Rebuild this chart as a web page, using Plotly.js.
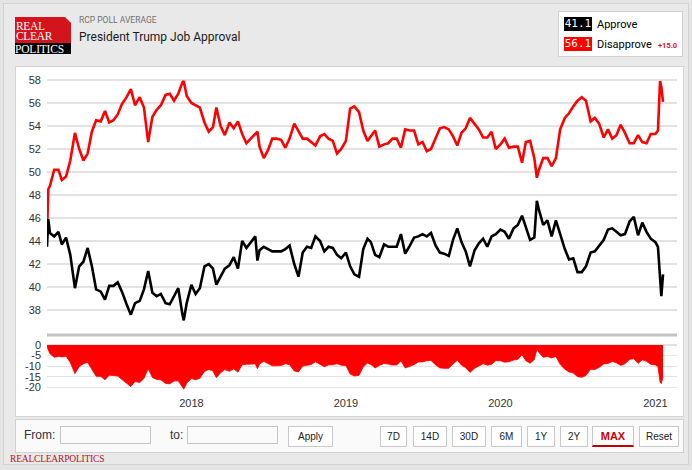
<!DOCTYPE html>
<html>
<head>
<meta charset="utf-8">
<script src="https://cdn.plot.ly/plotly-3.0.1.min.js"></script>
<style>
  html, body { margin:0; padding:0; background:#e6e6e6; }
  #wrap { position:relative; width:692px; height:470px; overflow:hidden; background:#e4e4e4; font-family:Roboto, "Liberation Sans", Arial, sans-serif; }
  .abs { position:absolute; white-space:nowrap; }
  .btn { position:absolute; top:426px; height:19px; border:1px solid #c8c8c8; background:#fff; font-family:"Liberation Sans Narrow","Liberation Sans",Arial,sans-serif; font-size:10px; color:#222; text-align:center; line-height:19px; box-sizing:content-box; }
  .inp { position:absolute; top:426px; height:16px; border:1px solid #c4c4c4; background:#fbfbfb; }
  .logo { position:absolute; font-family:'Liberation Serif','DejaVu Serif',serif; font-size:11.5px; line-height:10px; color:#fff; letter-spacing:-0.3px; }
</style>
</head>
<body>
<div id="wrap">
  <!-- header -->
  <div class="abs" style="left:3px;top:3px;width:684px;height:460px;border:1px solid #d2d2d2;background:#e9e9e9;"></div>
  <!-- logo -->
  <div class="abs" style="left:15px;top:17px;width:56px;height:26px;background:#d4141c;"></div>
  <div class="abs" style="left:65px;top:17px;width:0;height:0;border-top:6px solid #e9e9e9;border-left:6px solid transparent;"></div>
  <div class="abs" style="left:15px;top:43px;width:56px;height:11px;background:#000;"></div>
  <div class="logo" style="left:16px;top:21px;white-space:pre;">REAL
CLEAR</div>
  <div class="logo" style="left:15px;top:44px;white-space:nowrap;letter-spacing:-0.2px;">POLITICS</div>
  <div class="abs" style="left:79px;top:15px;font-size:8.5px;color:#6f6f6f;">RCP POLL AVERAGE</div>
  <div class="abs" style="left:79px;top:30px;font-size:12px;color:#1a1a1a;">President Trump Job Approval</div>
  <!-- legend box -->
  <div class="abs" style="left:558px;top:11px;width:123px;height:44px;background:#fff;border:1px solid #d0d0d0;"></div>
  <div class="abs" style="left:564px;top:17px;width:28px;height:14px;background:#000;color:#fff;font-family:'DejaVu Sans Mono','Liberation Mono',monospace;font-size:11px;line-height:14px;text-align:center;">41.1</div>
  <div class="abs" style="left:597px;top:18px;font-size:11px;line-height:14px;color:#000;">Approve</div>
  <div class="abs" style="left:564px;top:37px;width:28px;height:14px;background:#ff0000;color:#fff;font-family:'DejaVu Sans Mono','Liberation Mono',monospace;font-size:11px;line-height:14px;text-align:center;">56.1</div>
  <div class="abs" style="left:597px;top:38px;font-size:11px;line-height:14px;color:#000;">Disapprove</div>
  <div class="abs" style="left:658px;top:40px;font-size:7.5px;line-height:12px;font-weight:bold;color:#e01010;">+15.0</div>
  <!-- chart panel -->
  <div class="abs" style="left:15px;top:66px;width:667px;height:349px;background:#fff;border:1px solid #d4d4d4;"></div>
  <div id="chart" class="abs" style="left:15px;top:67px;width:668px;height:348px;"></div>
  <!-- controls -->
  <div class="abs" style="left:15px;top:419px;width:667px;height:32px;background:#fafafa;border:1px solid #d0d0d0;"></div>
  <div class="abs" style="left:24px;top:428px;font-size:12px;line-height:14px;color:#333;font-family:'Liberation Sans Narrow','Liberation Sans',Arial,sans-serif;">From:</div>
  <div class="inp" style="left:60px;width:89px;"></div>
  <div class="abs" style="left:170px;top:428px;font-size:12px;line-height:14px;color:#333;font-family:'Liberation Sans Narrow','Liberation Sans',Arial,sans-serif;">to:</div>
  <div class="inp" style="left:187px;width:89px;"></div>
  <div class="btn" style="left:288px;width:43px;">Apply</div>
  <div class="btn" style="left:380px;width:25px;">7D</div>
  <div class="btn" style="left:413px;width:32px;">14D</div>
  <div class="btn" style="left:452px;width:32px;">30D</div>
  <div class="btn" style="left:491px;width:29px;">6M</div>
  <div class="btn" style="left:527px;width:26px;">1Y</div>
  <div class="btn" style="left:560px;width:26px;">2Y</div>
  <div class="btn" style="left:592px;width:40px;height:18px;color:#d00000;font-weight:bold;font-size:11px;border-bottom:2px solid #c00000;">MAX</div>
  <div class="btn" style="left:639px;width:38px;">Reset</div>
  <div class="abs" style="left:10px;top:454px;font-family:'Liberation Serif','DejaVu Serif',serif;font-size:9.5px;line-height:11px;color:#b0141c;letter-spacing:-0.2px;">REALCLEARPOLITICS</div>
</div>
<script>
// RCP poll average, Trump job approval
const dates = [
 "2017-01-25","2017-01-28","2017-02-01","2017-02-11","2017-02-21","2017-03-01","2017-03-11","2017-03-21",
 "2017-04-01","2017-04-11","2017-04-21","2017-05-01","2017-05-11","2017-05-21","2017-06-01","2017-06-11",
 "2017-06-21","2017-07-01","2017-07-11","2017-07-21","2017-08-01","2017-08-11","2017-08-21","2017-09-01",
 "2017-09-11","2017-09-21","2017-10-01","2017-10-11","2017-10-21","2017-11-01","2017-11-11","2017-11-21",
 "2017-12-01","2017-12-11","2017-12-14","2017-12-21",
 "2018-01-01","2018-01-11","2018-01-21","2018-02-01","2018-02-11","2018-02-21","2018-03-01","2018-03-11",
 "2018-03-21","2018-04-01","2018-04-11","2018-04-21","2018-05-01","2018-05-11","2018-05-21","2018-06-01",
 "2018-06-06","2018-06-11","2018-06-21","2018-07-01","2018-07-11","2018-07-21","2018-08-01","2018-08-11",
 "2018-08-21","2018-09-01","2018-09-11","2018-09-21","2018-10-01","2018-10-11","2018-10-21","2018-11-01",
 "2018-11-11","2018-11-21","2018-12-01","2018-12-11","2018-12-21",
 "2019-01-01","2019-01-11","2019-01-21","2019-02-01","2019-02-11","2019-02-21","2019-03-01","2019-03-11",
 "2019-03-21","2019-04-01","2019-04-11","2019-04-21","2019-05-01","2019-05-11","2019-05-21","2019-06-01",
 "2019-06-11","2019-06-21","2019-07-01","2019-07-11","2019-07-21","2019-08-01","2019-08-11","2019-08-21",
 "2019-09-01","2019-09-11","2019-09-21","2019-10-01","2019-10-11","2019-10-21","2019-11-01","2019-11-11",
 "2019-11-21","2019-12-01","2019-12-11","2019-12-21",
 "2020-01-01","2020-01-11","2020-01-21","2020-02-01","2020-02-11","2020-02-21","2020-03-01","2020-03-11",
 "2020-03-21","2020-03-27","2020-04-01","2020-04-11","2020-04-21","2020-05-01","2020-05-11","2020-05-21",
 "2020-06-01","2020-06-11","2020-06-21","2020-07-01","2020-07-11","2020-07-21","2020-08-01","2020-08-11",
 "2020-08-21","2020-09-01","2020-09-11","2020-09-21","2020-10-01","2020-10-11","2020-10-21","2020-11-01",
 "2020-11-11","2020-11-21","2020-12-01","2020-12-11","2020-12-21",
 "2021-01-01","2021-01-07","2021-01-12","2021-01-15","2021-01-19"
];
const approve = [
 43.5,45.9,44.7,44.4,44.8,43.7,44.3,42.8,
 39.9,41.8,42.2,43.4,41.8,39.8,39.6,38.9,
 40.1,40.1,40.4,39.6,38.5,37.6,38.6,38.8,
 39.8,41.4,39.5,39.2,39.4,38.6,38.5,39.2,
 39.9,37.6,37.1,38.6,
 40.2,39.4,39.9,41.8,42.0,41.6,40.2,40.9,
 41.6,41.9,42.6,41.6,44.0,43.4,43.9,44.4,
 42.3,43.2,43.5,43.3,43.1,43.1,43.1,43.3,
 43.6,42.0,40.9,43.0,43.5,43.4,44.4,44.0,
 43.1,43.5,43.4,42.8,42.5,
 43.0,41.8,41.1,40.9,43.3,44.2,43.9,42.8,
 42.6,43.7,43.5,43.5,43.5,44.6,42.9,43.6,
 44.3,44.4,44.6,44.4,44.7,43.6,43.0,42.9,
 42.7,44.1,45.1,43.9,43.1,41.8,43.2,43.8,
 44.2,43.5,44.4,44.6,
 45.0,44.8,44.2,45.1,45.4,46.2,45.2,44.1,
 44.3,47.5,46.7,45.4,45.8,44.4,45.8,44.6,
 43.3,42.4,42.5,41.3,41.3,41.8,43.0,43.1,
 43.6,44.1,45.0,45.1,44.8,44.5,44.6,45.7,
 46.1,44.5,45.6,44.8,44.2,
 43.9,43.5,40.4,39.2,41.1
];
const disapprove = [
 44.5,48.5,48.8,50.2,50.2,49.3,49.6,51.0,
 53.4,52.0,51.0,51.6,53.5,54.5,54.4,55.3,
 54.3,54.5,55.0,55.9,56.5,57.2,55.8,56.5,
 55.6,52.6,54.8,55.4,55.8,56.7,56.8,56.2,
 56.8,57.8,57.9,56.6,
 56.0,55.8,55.6,54.3,53.5,53.9,55.6,54.0,
 53.2,54.3,53.8,54.4,53.3,52.5,52.9,53.3,
 53.5,52.2,51.2,51.9,52.9,52.9,52.8,52.1,
 52.9,54.2,53.6,52.9,52.9,52.6,52.3,53.1,
 53.3,52.9,52.7,51.6,52.0,
 52.7,55.5,55.7,55.2,53.6,52.7,53.1,53.6,
 52.2,52.4,52.5,52.9,52.9,52.1,53.7,53.6,
 53.6,52.4,52.6,51.8,52.0,53.0,53.8,53.9,
 53.7,53.1,52.3,53.4,53.8,54.7,54.2,53.7,
 53.0,53.0,53.5,52.0,
 52.4,52.9,52.1,52.2,52.2,50.8,52.6,52.7,
 51.2,49.5,50.2,51.2,51.2,50.5,51.2,53.7,
 54.7,55.1,55.7,56.2,56.5,56.2,54.4,54.7,
 54.2,53.0,53.7,52.9,53.2,54.1,53.4,52.5,
 52.5,53.2,52.6,52.5,53.3,
 53.3,53.6,57.9,57.4,56.1
];
const yearTicks = ["2018-01-01","2019-01-01","2020-01-01","2021-01-01"];
const yearLabels = ["2018","2019","2020","2021"];
const mainTicks = [38,40,42,44,46,48,50,52,54,56,58];
const spreadTicks = [0,-5,-10,-15,-20];

const spread = approve.map((a, i) => +(a - disapprove[i]).toFixed(1));

const tickFont = {family:"Liberation Sans, Arial, sans-serif", size:11, color:"#333"};

const traces = [
  {x:dates, y:disapprove, type:"scatter", mode:"lines", line:{color:"#ff0000", width:2.6}, yaxis:"y", hoverinfo:"skip"},
  {x:dates, y:approve, type:"scatter", mode:"lines", line:{color:"#000000", width:2.6}, yaxis:"y", hoverinfo:"skip"},
  {x:dates, y:spread, type:"scatter", mode:"lines", fill:"tozeroy", fillcolor:"#ff0000", line:{color:"#ff0000", width:0.8}, yaxis:"y2", hoverinfo:"skip"}
];

const layout = {
  width:668, height:348,
  margin:{l:32, r:6, t:5, b:25},
  paper_bgcolor:"rgba(0,0,0,0)", plot_bgcolor:"rgba(0,0,0,0)",
  showlegend:false,
  xaxis:{type:"date", range:["2017-01-25","2021-02-21"], anchor:"y2",
         tickvals:yearTicks, ticktext:yearLabels, showgrid:false, zeroline:false, showline:false,
         ticks:"", tickfont:tickFont, ticklabelstandoff:5, fixedrange:true},
  yaxis:{domain:[0.2044,1], range:[36.7,58.69], tickvals:mainTicks, ticktext:mainTicks.map(String),
         gridcolor:"#e2e2e2", gridwidth:1.2, zeroline:false, showline:false, ticks:"",
         tickfont:tickFont, ticklabelstandoff:5, fixedrange:true},
  yaxis2:{domain:[0,0.1478], range:[-21.2,0.94], tickvals:spreadTicks, ticktext:spreadTicks.map(String),
          gridcolor:"#e2e2e2", gridwidth:1.2, zeroline:false, showline:false, ticks:"",
          tickfont:tickFont, ticklabelstandoff:5, fixedrange:true},
  shapes:[
    {type:"line", xref:"paper", yref:"paper", x0:0, x1:1, y0:0.173, y1:0.173, line:{color:"#c2c2c2", width:3}}
  ]
};

Plotly.newPlot("chart", traces, layout, {displayModeBar:false, staticPlot:true});
</script>
</body>
</html>
